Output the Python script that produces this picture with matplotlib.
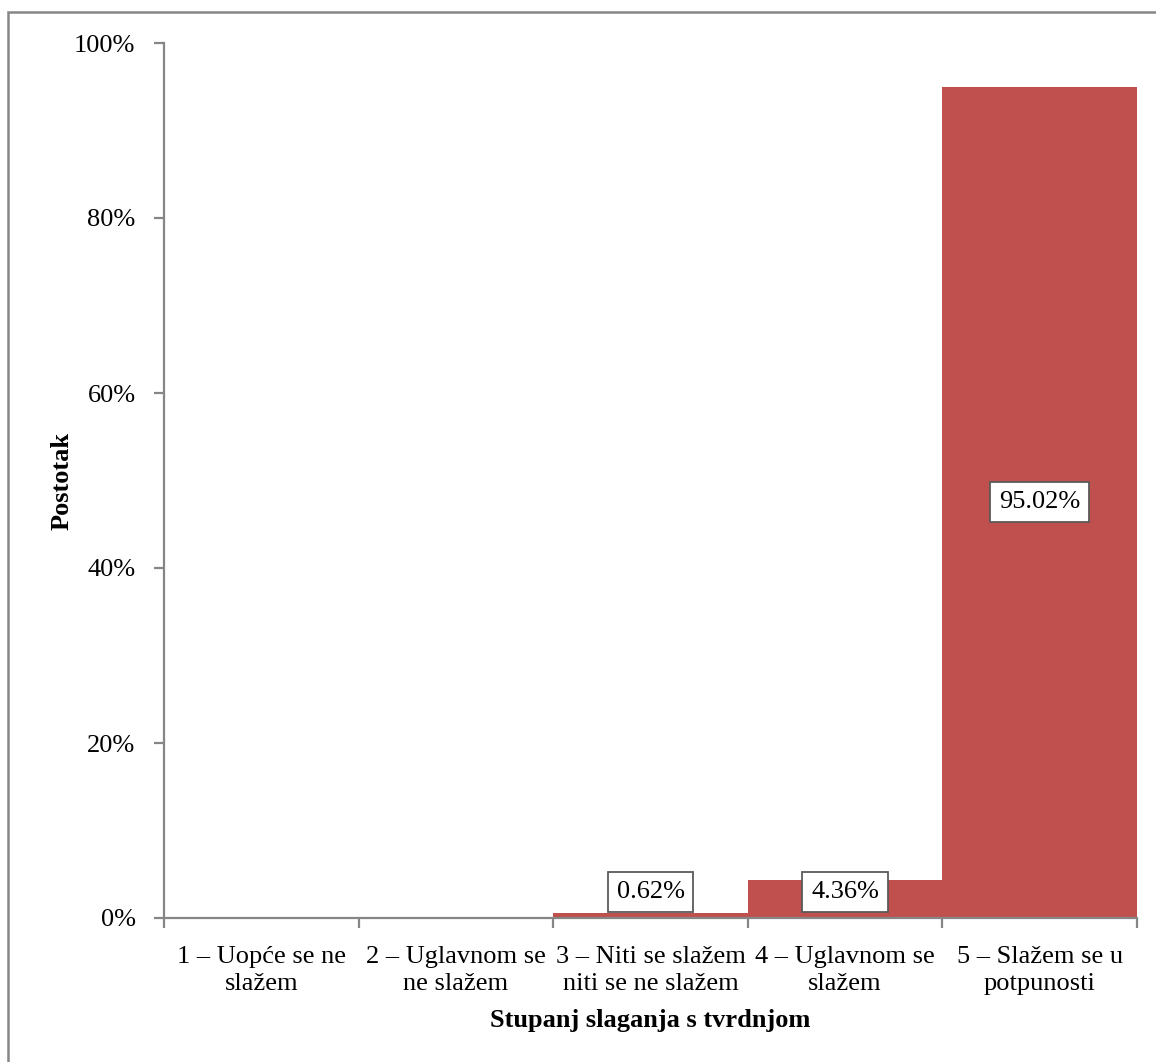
import matplotlib
matplotlib.use("Agg")
import matplotlib.pyplot as plt
from matplotlib.patches import Rectangle
from matplotlib.ticker import FuncFormatter

categories = [
    "1 – Uopće se ne\nslažem",
    "2 – Uglavnom se\nne slažem",
    "3 – Niti se slažem\nniti se ne slažem",
    "4 – Uglavnom se\nslažem",
    "5 – Slažem se u\npotpunosti",
]
percent = [0.0, 0.0, 0.62, 4.36, 95.02]
y_ticks = [0, 20, 40, 60, 80, 100]

plt.rcParams["font.family"] = ["Liberation Serif", "DejaVu Serif"]
AXIS_GRAY = "#868686"
BAR_RED = "#C0504D"
FS = 19

fig = plt.figure(figsize=(11.56, 10.62), dpi=100)
ax = fig.add_axes([164 / 1156, 1 - 918 / 1062, (1137 - 164) / 1156, (918 - 43) / 1062])

positions = list(range(1, len(categories) + 1))
ax.bar(positions, percent, width=1.0, color=BAR_RED, zorder=2)

# data labels for non-zero bars (small bars get the label lifted above the axis)
for x, v in zip(positions, percent):
    if v <= 0:
        continue
    y = max(v / 2, 3.0)
    ax.text(x, y, f"{v:.2f}%", ha="center", va="center", fontsize=FS, zorder=4,
            bbox=dict(boxstyle="square,pad=0.34", facecolor="white",
                      edgecolor="#5a5a5a", linewidth=1.3))

ax.set_xlim(0.5, len(categories) + 0.5)
ax.set_ylim(0, 100)

for side in ("top", "right"):
    ax.spines[side].set_visible(False)
for side in ("left", "bottom"):
    ax.spines[side].set_color(AXIS_GRAY)
    ax.spines[side].set_linewidth(1.6)

ax.set_yticks(y_ticks)
ax.yaxis.set_major_formatter(FuncFormatter(lambda v, _: f"{v:.0f}%"))
ax.tick_params(axis="y", direction="out", length=7, width=1.6, color=AXIS_GRAY,
               labelsize=FS, pad=13.5)

# tick marks on category boundaries, labels at centers
ax.set_xticks([p - 0.5 for p in positions] + [positions[-1] + 0.5])
ax.set_xticklabels([])
ax.tick_params(axis="x", which="major", direction="out", length=7, width=1.6,
               color=AXIS_GRAY)
ax.set_xticks(positions, minor=True)
ax.set_xticklabels(categories, minor=True, fontsize=FS, linespacing=1.3)
ax.tick_params(axis="x", which="minor", length=0, pad=20)

ax.set_xlabel("Stupanj slaganja s tvrdnjom", fontsize=FS, fontweight="bold")
ax.xaxis.label.set_va("center")
ax.xaxis.set_label_coords(0.5, -0.1166)
ax.set_ylabel("Postotak", fontsize=FS, fontweight="bold")
ax.yaxis.label.set_va("center")
ax.yaxis.set_label_coords(-0.105, 0.5)

# chart area border (cropped on the right and bottom)
fig.patches.append(Rectangle((8 / 1156, -0.05), 1.2, 1 - 12 / 1062 + 0.05,
                             transform=fig.transFigure, fill=False,
                             edgecolor=AXIS_GRAY, linewidth=1.8))

fig.savefig("out.png", dpi=100)
